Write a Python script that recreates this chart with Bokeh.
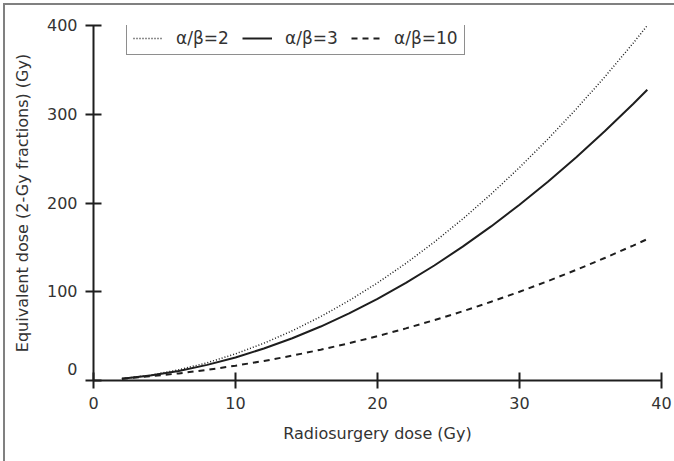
from bokeh.plotting import figure
from bokeh.models import Range1d, FixedTicker, Legend, LegendItem, InlineStyleSheet
from bokeh.embed import file_html
from bokeh.resources import INLINE

# Radiosurgery dose (Gy)
dose = [2, 4, 6, 8, 10, 12, 14, 16, 18, 20, 22, 24, 26, 28, 30, 32, 34, 36, 38, 39]
# Equivalent dose in 2-Gy fractions (Gy)
eqd_ab2 = [2, 6, 12, 20, 30, 42, 56, 72, 90, 110, 132, 156, 182, 210, 240, 272, 306, 342, 380, 400]
eqd_ab3 = [2, 5.6, 10.8, 17.6, 26, 36, 47.6, 60.8, 75.6, 92, 110, 129.6, 150.8, 173.6, 198, 224, 251.6, 280.8, 311.6, 327.6]
eqd_ab10 = [2, 4.7, 8, 12, 16.7, 22, 28, 34.7, 42, 50, 58.7, 68, 78, 88.7, 100, 112, 124.7, 138, 152, 159.3]

labels = ["α/β=2", "α/β=3", "α/β=10"]
x_ticks = [0, 10, 20, 30, 40]
y_ticks = [0, 100, 200, 300, 400]

FONT = "DejaVu Sans"
INK = "#1e1e1e"
TXT = "#333333"

frame_css = InlineStyleSheet(css="""
:host { position: relative; }
:host::after {
  content: "";
  position: absolute;
  left: 3px; top: 3px; right: 0px; bottom: 0px;
  border-left: 2px solid #808080;
  border-top: 2px solid #808080;
  pointer-events: none;
  z-index: 100;
}
""")

p = figure(width=674, height=461, output_backend="svg", toolbar_location=None,
           x_range=Range1d(0, 40), y_range=Range1d(0, 400),
           min_border_left=93, min_border_right=13, min_border_top=25, min_border_bottom=81,
           stylesheets=[frame_css])
p.outline_line_color = None
p.grid.visible = False
p.background_fill_color = "white"
p.border_fill_color = "white"

r1 = p.line(dose, eqd_ab2, line_color=INK, line_width=1.5, line_dash="1 2")
r2 = p.line(dose, eqd_ab3, line_color=INK, line_width=2)
r3 = p.line(dose, eqd_ab10, line_color=INK, line_width=2, line_dash="6 5")

for ax in (p.xaxis[0], p.yaxis[0]):
    ax.axis_line_color = INK
    ax.axis_line_width = 2
    ax.major_tick_line_color = INK
    ax.major_tick_line_width = 2
    ax.major_tick_in = 8
    ax.major_tick_out = 8
    ax.minor_tick_line_color = None
    ax.major_label_text_font = FONT
    ax.major_label_text_font_size = "16px"
    ax.major_label_text_color = TXT
    ax.axis_label_text_font = FONT
    ax.axis_label_text_font_size = "16px"
    ax.axis_label_text_font_style = "normal"
    ax.axis_label_text_color = TXT

p.xaxis[0].ticker = FixedTicker(ticks=x_ticks)
p.yaxis[0].ticker = FixedTicker(ticks=y_ticks)
p.xaxis[0].axis_label = "Radiosurgery dose (Gy)"
p.yaxis[0].axis_label = "Equivalent dose (2-Gy fractions) (Gy)"
p.xaxis[0].major_label_standoff = 8
p.yaxis[0].major_label_standoff = 8
p.xaxis[0].axis_label_standoff = 12
p.yaxis[0].axis_label_standoff = 12
# the "0" on the value axis sits a little above its tick
p.yaxis[0].major_label_overrides = {0: "0\n "}

legend = Legend(items=[LegendItem(label=labels[0], renderers=[r1]),
                       LegendItem(label=labels[1], renderers=[r2]),
                       LegendItem(label=labels[2], renderers=[r3])],
                orientation="horizontal", location=(33, 325),
                glyph_width=30, glyph_height=20, label_height=20, label_width=64,
                label_standoff=13, spacing=2, padding=6, margin=0,
                label_text_font=FONT, label_text_font_size="17px", label_text_color=TXT,
                border_line_color=INK, border_line_width=1.5,
                background_fill_color="white", background_fill_alpha=1)
p.add_layout(legend)

open("out.html", "w").write(file_html(p, INLINE))
